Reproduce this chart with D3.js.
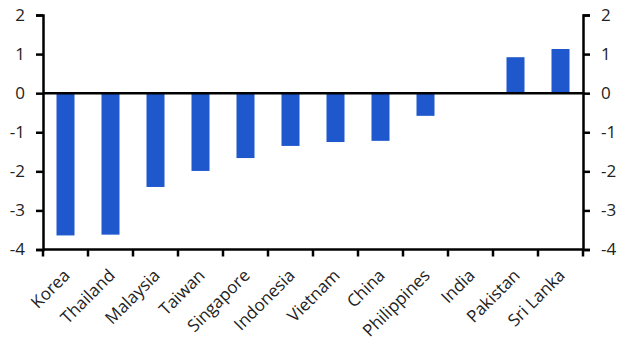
<!DOCTYPE html>
<html>
<head>
<meta charset="utf-8">
<script src="https://cdn.jsdelivr.net/npm/d3@7"></script>
<style>
  body { margin: 0; background: #fff; }
  text { font-family: "Open Sans", "Noto Sans", sans-serif; fill: #222; }
</style>
</head>
<body>
<svg id="chart" width="630" height="354"></svg>
<script>
const countries = ["Korea", "Thailand", "Malaysia", "Taiwan", "Singapore", "Indonesia",
  "Vietnam", "China", "Philippines", "India", "Pakistan", "Sri Lanka"];
const values = [-3.64, -3.62, -2.40, -1.99, -1.66, -1.35, -1.25, -1.22, -0.58, 0, 0.92, 1.13];
const yTicks = [-4, -3, -2, -1, 0, 1, 2];

const width = 630, height = 354;
const margin = {top: 15, right: 47, bottom: 105, left: 43};
const svg = d3.select("#chart");

const x = d3.scaleBand()
  .domain(countries)
  .range([margin.left, width - margin.right])
  .paddingInner(0.6)
  .paddingOuter(0.3);

// band boundaries for the x ticks
const step = x.step();
const x0 = margin.left;

const y = d3.scaleLinear()
  .domain([-4, 2])
  .range([height - margin.bottom + 0.5, margin.top]);

// bars
svg.append("g")
  .selectAll("rect")
  .data(values)
  .enter().append("rect")
  .attr("x", (d, i) => x(countries[i]))
  .attr("width", x.bandwidth())
  .attr("y", d => y(Math.max(0, d)))
  .attr("height", d => Math.abs(y(d) - y(0)))
  .attr("fill", "#1f58cc");

const fontSize = 17;
const fmt = d => d < 0 ? "-" + Math.abs(d) : d;

// left axis
const left = svg.append("g")
  .attr("transform", "translate(" + margin.left + ",0)")
  .call(d3.axisLeft(y).tickValues(yTicks).tickSize(7).tickPadding(11).tickFormat(fmt));
// right axis
const right = svg.append("g")
  .attr("transform", "translate(" + (width - margin.right) + ",0)")
  .call(d3.axisRight(y).tickValues(yTicks).tickSize(7).tickPadding(11).tickFormat(fmt));

[left, right].forEach(function(g) {
  g.select(".domain").attr("stroke", "#000").attr("stroke-width", 2.5);
  g.selectAll(".tick line").attr("stroke", "#000").attr("stroke-width", 2.5);
  g.selectAll(".tick text").style("font-size", fontSize + "px")
    .style("font-family", "'Open Sans', sans-serif").attr("fill", "#222");
});

// bottom axis line
const yb = y(-4);
svg.append("line")
  .attr("x1", margin.left).attr("x2", width - margin.right)
  .attr("y1", yb).attr("y2", yb)
  .attr("stroke", "#000").attr("stroke-width", 2.5);

// x ticks at category boundaries
const bounds = d3.range(countries.length + 1).map(i => x0 + i * step);
svg.append("g")
  .selectAll("line")
  .data(bounds)
  .enter().append("line")
  .attr("x1", d => d).attr("x2", d => d)
  .attr("y1", yb).attr("y2", yb + 7)
  .attr("stroke", "#000").attr("stroke-width", 2.5);

// zero line
svg.append("line")
  .attr("x1", margin.left).attr("x2", width - margin.right)
  .attr("y1", y(0)).attr("y2", y(0))
  .attr("stroke", "#000").attr("stroke-width", 2.5);

// category labels
svg.append("g")
  .selectAll("text")
  .data(countries)
  .enter().append("text")
  .attr("transform", d => "translate(" + (x(d) + x.bandwidth() / 2 + 5.5) + "," + (yb + 27) + ") rotate(-45)")
  .attr("text-anchor", "end")
  .style("font-size", fontSize + "px")
  .text(d => d);
</script>
</body>
</html>
